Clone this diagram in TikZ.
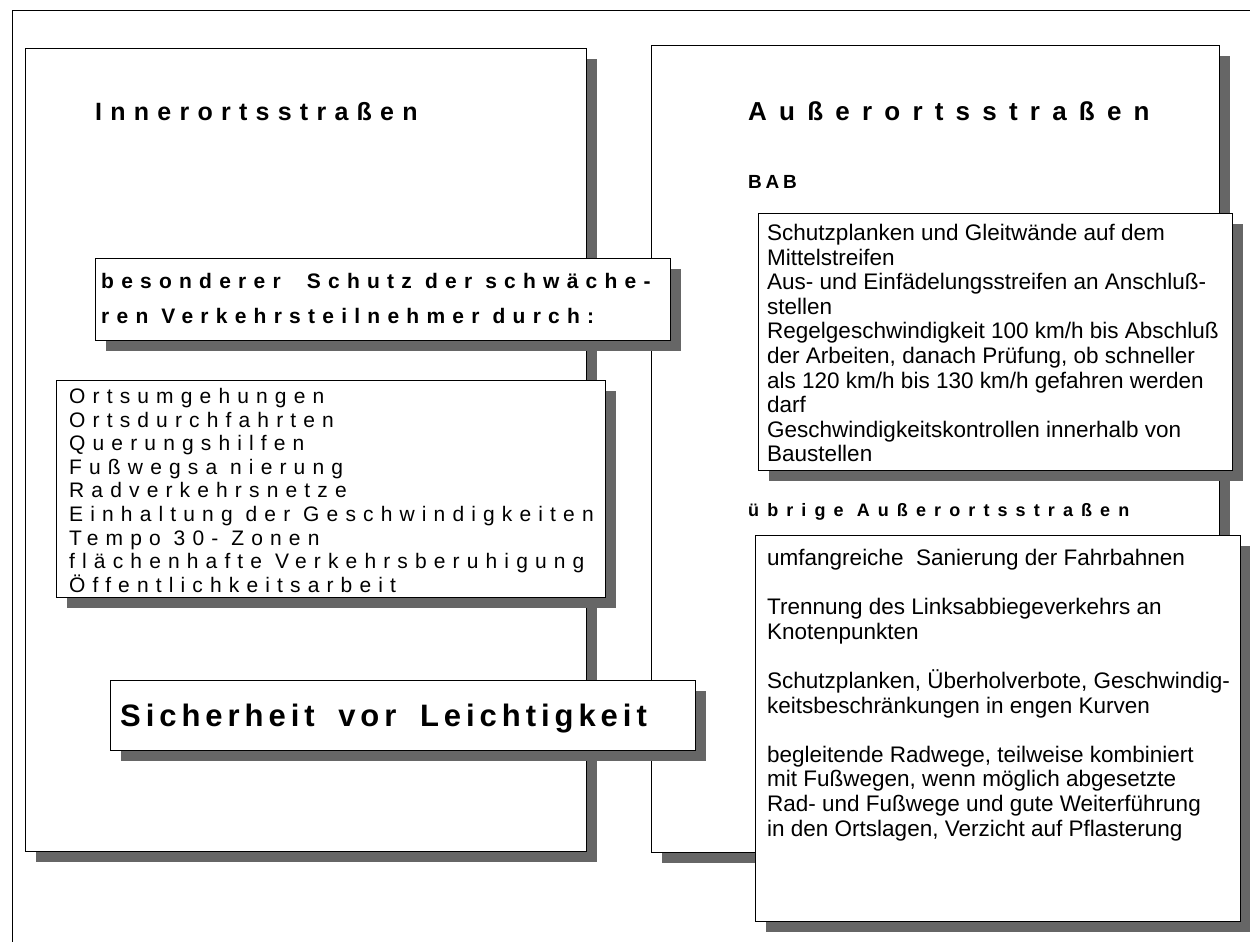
\documentclass[tikz,border=0pt]{standalone}
\usepackage{fontspec}
\setmainfont{Liberation Sans}
\usetikzlibrary{shadows}
\begin{document}
\begin{tikzpicture}[x=1pt,y=-1pt,
  every node/.style={inner sep=0pt},
  shadebox/.style={draw=black,line width=1.3pt,fill=white,anchor=north west,
    drop shadow={shadow xshift=10pt,shadow yshift=-10pt,fill=black!60,opacity=1}},
  txt/.style={anchor=north west,align=left},
  body/.style={txt,font=\fontsize{22.5}{24.6}\selectfont},
  listtxt/.style={txt,font=\fontsize{21}{23.6}\selectfont\addfontfeatures{LetterSpace=34}},
  head/.style={anchor=base west},
]
\useasboundingbox (0,0) rectangle (1250,942);
\clip (0,0) rectangle (1250,942);
% outer frame
\draw[line width=1pt] (12,960) |- (1260,11);
% panels
\node[shadebox,minimum width=561pt,minimum height=803pt] (leftpanel) at (25,48) {};
\node[shadebox,minimum width=568pt,minimum height=807pt] (rightpanel) at (651,45) {};
% left side
\node[head,font=\fontsize{25}{28}\selectfont\bfseries\addfontfeatures{LetterSpace=33}] (tinner) at (95,120) {Innerortsstraßen};
\node[shadebox,minimum width=575pt,minimum height=82pt] (schutzbox) at (95,258) {};
\node[txt,font=\fontsize{21}{35}\selectfont\bfseries\addfontfeatures{LetterSpace=34.5}] (schutztxt) at ([shift={(6,15)}]schutzbox.north west) {besonderer\ \ Schutz der schwäche-\\ren Verkehrsteilnehmer durch:};
\node[shadebox,minimum width=549pt,minimum height=217pt] (listbox) at (56,380) {};
\node[listtxt] (listtxt) at ([shift={(13,8)}]listbox.north west) {Ortsumgehungen\\Ortsdurchfahrten\\Querungshilfen\\Fußwegsa nierung\\Radverkehrsnetze\\Einhaltung der Geschwindigkeiten\\Tempo 30- Zonen\\flächenhafte Verkehrsberuhigung\\Öffentlichkeitsarbeit};
\node[shadebox,minimum width=585pt,minimum height=70pt] (sichbox) at (110,680) {};
\node[head,font=\fontsize{31}{34}\selectfont\bfseries\addfontfeatures{LetterSpace=16}] (sichtxt) at (120,726) {Sicherheit\hspace{10pt} vor\hspace{10pt} Leichtigkeit};
% right side
\node[head,font=\fontsize{26}{30}\selectfont\bfseries\addfontfeatures{LetterSpace=47}] (tausser) at (748,120) {Außerortsstraßen};
\node[head,font=\fontsize{19}{22}\selectfont\bfseries\addfontfeatures{LetterSpace=20}] (bab) at (748,188) {BAB};
\node[shadebox,minimum width=474pt,minimum height=257pt] (babbox) at (758,213) {};
\node[body] (babtxt) at ([shift={(9,11)}]babbox.north west) {Schutzplanken und Gleitwände auf dem\\Mittelstreifen\\Aus- und Einfädelungsstreifen an Anschluß-\\stellen\\Regelgeschwindigkeit 100 km/h bis Abschluß\\der Arbeiten, danach Prüfung, ob schneller\\als 120 km/h bis 130 km/h gefahren werden\\darf\\Geschwindigkeitskontrollen innerhalb von\\Baustellen};
\node[head,font=\fontsize{18}{21}\selectfont\bfseries\addfontfeatures{LetterSpace=45}] (uebrig) at (748,516) {übrige Außerortsstraßen};
\node[shadebox,minimum width=485pt,minimum height=386pt] (uebbox) at (755,535) {};
\node[body] (uebtxt) at ([shift={(12,14)}]uebbox.north west) {umfangreiche\ \ Sanierung der Fahrbahnen\\[24.6pt]Trennung des Linksabbiegeverkehrs an\\Knotenpunkten\\[24.6pt]Schutzplanken, Überholverbote, Geschwindig-\\keitsbeschränkungen in engen Kurven\\[24.6pt]begleitende Radwege, teilweise kombiniert\\mit Fußwegen, wenn möglich abgesetzte\\Rad- und Fußwege und gute Weiterführung\\in den Ortslagen, Verzicht auf Pflasterung};
\end{tikzpicture}
\end{document}
